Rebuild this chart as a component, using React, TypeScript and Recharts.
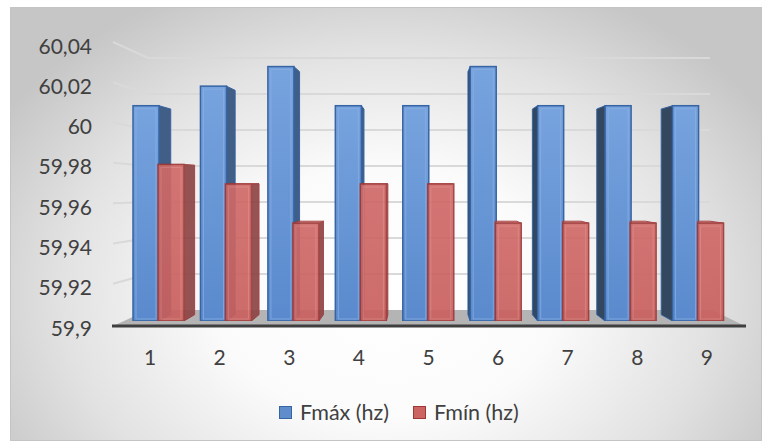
import { Bar, BarChart, CartesianGrid, Legend, XAxis, YAxis } from "recharts";

const categories = ["1", "2", "3", "4", "5", "6", "7", "8", "9"];
const fmax = [60.01, 60.02, 60.03, 60.01, 60.01, 60.03, 60.01, 60.01, 60.01];
const fmin = [59.98, 59.97, 59.95, 59.97, 59.97, 59.95, 59.95, 59.95, 59.95];
const yTicks = [59.9, 59.92, 59.94, 59.96, 59.98, 60, 60.02, 60.04];

const data = categories.map((name, i) => ({ name, fmax: fmax[i], fmin: fmin[i] }));

const FONT = "Lato, 'Noto Sans', sans-serif";
const TEXT = "#404040";

// fake 3d: plot area is where the bars sit, labels/walls are mapped around it
const PLOT_TOP = 47;
const PLOT_BOTTOM = 321;
const PLOT_LEFT = 125;
const PLOT_RIGHT = 732;
const X_AXIS_H = 30;
const VP = { x: 420, y: 180 };
const DEPTH = 0.955;

const frontY = (y: number) => 45 + (y - PLOT_TOP) * (282 / (PLOT_BOTTOM - PLOT_TOP));
const backY = (y: number) => 58 + (y - PLOT_TOP) * (252 / (PLOT_BOTTOM - PLOT_TOP));
const back = (px: number, py: number) => [VP.x + (px - VP.x) * DEPTH, VP.y + (py - VP.y) * DEPTH];

const palette = {
  max: { front: "url(#maxFront)", solid: "#5f8dcc", stroke: "#3764a3", hi: "#8db1e2", sideR: "#405e86", sideL: "#33485f", top: "#7fa5d9" },
  min: { front: "url(#minFront)", solid: "#cc6462", stroke: "#9e3837", hi: "#dc8684", sideR: "#8c4645", sideL: "#7a3c3c", top: "#d98886" },
};

function Box3D(props: any) {
  const { x, y, width: w, height: h, kind } = props;
  if (w == null || h == null) return null;
  const c = palette[kind as "max" | "min"];
  const [btlx, btly] = back(x, y);
  const [btrx] = back(x + w, y);
  const [, bbly] = back(x, y + h);
  const pts = (a: number[][]) => a.map((p) => p.join(",")).join(" ");
  const faces = [];
  if (x + w < VP.x) {
    faces.push(
      <polygon key="s" points={pts([[x + w, y], [btrx, btly], [btrx, bbly], [x + w, y + h]])} fill={c.sideR} stroke={c.stroke} strokeWidth={1} />
    );
  } else if (x > VP.x && kind === "max") {
    faces.push(
      <polygon key="s" points={pts([[x, y], [btlx, btly], [btlx, bbly], [x, y + h]])} fill={c.sideL} stroke={c.stroke} strokeWidth={1} />
    );
  }
  if (btly < y) {
    const lx = kind === "min" ? Math.max(btlx, x) : btlx;
    const rx = kind === "max" ? Math.min(btrx, x + w) : btrx;
    faces.push(
      <polygon key="t" points={pts([[x, y], [x + w, y], [rx, btly], [lx, btly]])} fill={c.top} stroke={c.stroke} strokeWidth={1} />
    );
  }
  return (
    <g opacity={kind === "min" ? 0.92 : 1}>
      {faces}
      <rect x={x} y={y} width={w} height={h} fill={c.front} stroke={c.stroke} strokeWidth={1.5} />
      <rect x={x + 3} y={y + 3} width={Math.max(w - 6, 0)} height={Math.max(h - 5, 0)} fill="none" stroke={c.hi} strokeWidth={1} opacity={0.7} />
    </g>
  );
}

function GridLine(props: any) {
  const { y1, index } = props;
  if (Math.abs(y1 - PLOT_BOTTOM) < 1) {
    const fy = 326;
    const by = backY(y1);
    return (
      <g key={`g-${index}`}>
        <defs>
          <linearGradient id="maxFront" x1="0" y1="0" x2="0" y2="1">
            <stop offset="0%" stopColor="#77a3de" />
            <stop offset="100%" stopColor="#5a8acd" />
          </linearGradient>
          <linearGradient id="minFront" x1="0" y1="0" x2="0" y2="1">
            <stop offset="0%" stopColor="#d06a68" />
            <stop offset="100%" stopColor="#c9605e" />
          </linearGradient>
        </defs>
        <polygon points={`113,${fy} 745,${fy} 712,${by} 148,${by}`} fill="#b4b4b4" />
        <line x1={112} y1={fy} x2={746} y2={fy} stroke="#3f3f3f" strokeWidth={3} />
      </g>
    );
  }
  const fy = frontY(y1) - 3;
  const by = backY(y1);
  return (
    <polyline
      key={`g-${index}`}
      points={`113,${fy} 148,${by} 710,${by}`}
      fill="none"
      stroke="#d9d9d9"
      strokeWidth={2}
    />
  );
}

function YTick(props: any) {
  const { y, payload } = props;
  return (
    <text x={92} y={frontY(y)} textAnchor="end" dominantBaseline="central" fill={TEXT} fontFamily={FONT} fontSize={21}>
      {String(payload.value).replace(".", ",")}
    </text>
  );
}

function XTick(props: any) {
  const { x, payload } = props;
  const cx = (PLOT_LEFT + PLOT_RIGHT) / 2;
  return (
    <text x={cx + (x - cx) * 1.032} y={356} textAnchor="middle" dominantBaseline="central" fill={TEXT} fontFamily={FONT} fontSize={21}>
      {payload.value}
    </text>
  );
}

function LegendBox() {
  const item = (label: string, fill: string, stroke: string, gap: number) => (
    <div style={{ display: "flex", alignItems: "center", marginRight: gap }}>
      <span style={{ width: 11, height: 11, background: fill, border: `1.5px solid ${stroke}`, marginRight: 8 }} />
      <span>{label}</span>
    </div>
  );
  return (
    <div style={{ display: "flex", fontFamily: FONT, fontSize: 21.5, color: TEXT, lineHeight: "24px", whiteSpace: "nowrap" }}>
      {item("Fmáx (hz)", palette.max.solid, palette.max.stroke, 24)}
      {item("Fmín (hz)", palette.min.solid, palette.min.stroke, 0)}
    </div>
  );
}

export default function App() {
  return (
    <div style={{ position: "absolute", left: 0, top: 0, width: 771, height: 448, background: "#fff" }}>
      <div
        style={{
          position: "absolute",
          left: 10,
          top: 7,
          width: 750,
          height: 432,
          border: "1.5px solid #c4c4c4",
          background: "radial-gradient(ellipse 60% 78% at 50% 66%, #ffffff 0%, #fbfbfb 38%, #e2e2e2 72%, #c6c6c6 100%)",
        }}
      />
      <div style={{ position: "absolute", left: 0, top: 0 }}>
        <BarChart
          width={771}
          height={448}
          data={data}
          margin={{ top: PLOT_TOP, right: 771 - PLOT_RIGHT, bottom: 448 - PLOT_BOTTOM - X_AXIS_H, left: 0 }}
          barSize={26}
          barGap={-1}
        >
          <CartesianGrid vertical={false} horizontal={GridLine} />
          <XAxis dataKey="name" height={X_AXIS_H} axisLine={false} tickLine={false} tick={XTick} interval={0} />
          <YAxis
            width={PLOT_LEFT}
            domain={[59.9, 60.04]}
            ticks={yTicks}
            allowDataOverflow
            axisLine={false}
            tickLine={false}
            tick={YTick}
          />
          <Legend
            content={LegendBox}
            verticalAlign="middle"
            align="center"
            layout="horizontal"
            wrapperStyle={{ position: "absolute", top: 400, left: 279, width: "auto", height: "auto" }}
          />
          <Bar dataKey="fmax" name="Fmáx (hz)" shape={(p: any) => <Box3D {...p} kind="max" />} isAnimationActive={false} />
          <Bar dataKey="fmin" name="Fmín (hz)" shape={(p: any) => <Box3D {...p} kind="min" />} isAnimationActive={false} />
        </BarChart>
      </div>
    </div>
  );
}
